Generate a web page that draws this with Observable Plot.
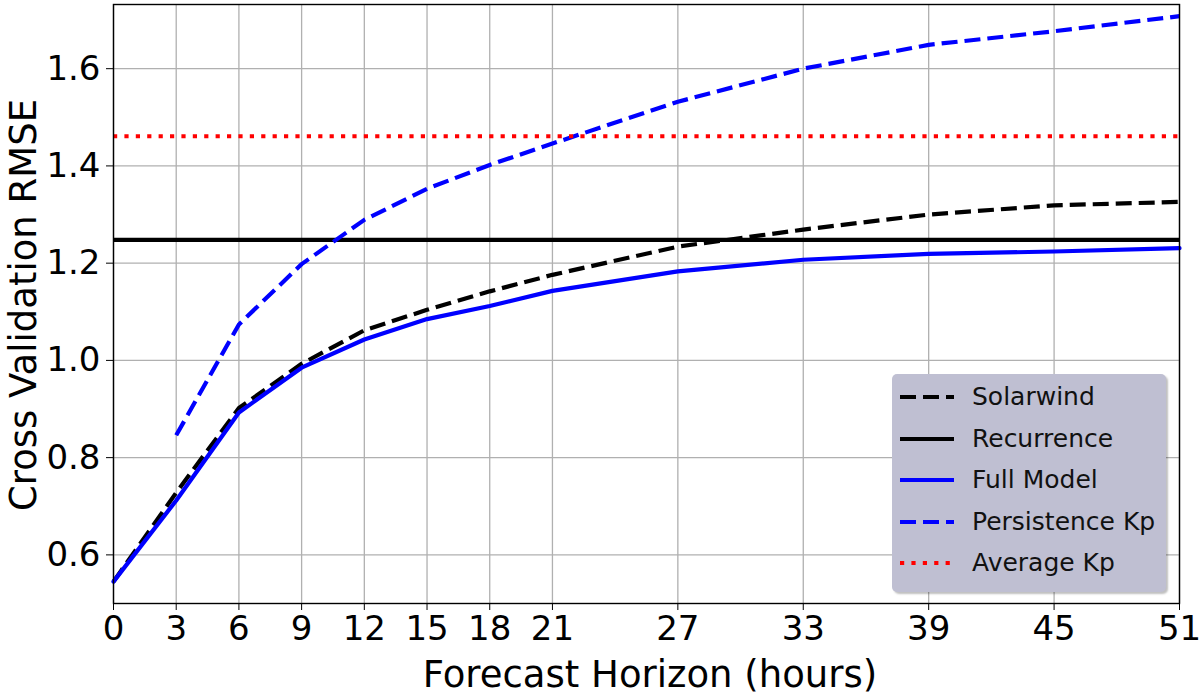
<!DOCTYPE html>
<html>
<head>
<meta charset="utf-8">
<script src="https://cdn.jsdelivr.net/npm/d3@7"></script>
<script src="https://cdn.jsdelivr.net/npm/@observablehq/plot@0.6"></script>
<style>
  html, body { margin: 0; padding: 0; background: #fff; }
  #wrap { position: relative; width: 1200px; height: 698px; font-family: "DejaVu Sans", sans-serif; }
  #legend { position: absolute; left: 892px; top: 374px; width: 274px; height: 218px;
            background: #bfbfd2; border-radius: 5px; box-shadow: 2px 2px 2px rgba(0,0,0,0.25); }
  .row { position: absolute; left: 0; height: 30px; width: 274px; }
  .row svg { position: absolute; left: 8px; top: 10px; }
  .row span { position: absolute; left: 80px; top: 0; font-size: 25px; line-height: 30px; color: #111; white-space: nowrap; }
</style>
</head>
<body>
<div id="wrap"></div>
<script>
// ---- data ----
const hours       = [0, 3, 6, 9, 12, 15, 18, 21, 27, 33, 39, 45, 51];
const solarwind   = [0.545, 0.728, 0.902, 0.993, 1.062, 1.104, 1.142, 1.176, 1.234, 1.269, 1.300, 1.319, 1.326];
const fullModel   = [0.545, 0.712, 0.893, 0.985, 1.043, 1.085, 1.112, 1.143, 1.183, 1.207, 1.219, 1.224, 1.231];
const persistence = [null, 0.846, 1.074, 1.198, 1.289, 1.353, 1.402, 1.446, 1.532, 1.600, 1.649, 1.677, 1.708];
const recurrence  = 1.248;
const averageKp   = 1.461;
const yTicks      = [0.6, 0.8, 1.0, 1.2, 1.4, 1.6];
const seriesNames = ["Solarwind", "Recurrence", "Full Model", "Persistence Kp", "Average Kp"];

const toRows = vals => hours.map((h, i) => ({h, v: vals[i]})).filter(d => d.v != null);

const LW = 4.2;
const DASH = "16,7";
const DOT = "4.2,7.2";

const chart = Plot.plot({
  width: 1200,
  height: 698,
  marginLeft: 113,
  marginRight: 21,
  marginTop: 4,
  marginBottom: 95,
  style: {fontFamily: "DejaVu Sans, sans-serif", fontSize: "34px", color: "#000", background: "#fff"},
  x: {domain: [0, 51], ticks: hours},
  y: {domain: [0.5, 1.732], ticks: yTicks},
  marks: [
    Plot.gridX(hours, {stroke: "#b0b0b0", strokeOpacity: 1, strokeWidth: 1.3}),
    Plot.gridY(yTicks, {stroke: "#b0b0b0", strokeOpacity: 1, strokeWidth: 1.3}),
    Plot.axisX(hours, {tickSize: 7, tickPadding: 5, fontSize: 34, label: null, tickFormat: d => String(d)}),
    Plot.axisY(yTicks, {tickSize: 7, tickPadding: 6, fontSize: 34, label: null, tickFormat: d3.format(".1f")}),
    Plot.line(toRows(solarwind), {x: "h", y: "v", stroke: "#000", strokeWidth: LW, strokeDasharray: DASH, strokeLinecap: "butt"}),
    Plot.ruleY([recurrence], {stroke: "#000", strokeWidth: LW}),
    Plot.line(toRows(fullModel), {x: "h", y: "v", stroke: "#0000ff", strokeWidth: LW}),
    Plot.line(toRows(persistence), {x: "h", y: "v", stroke: "#0000ff", strokeWidth: LW, strokeDasharray: DASH, strokeLinecap: "butt"}),
    Plot.ruleY([averageKp], {stroke: "#ff0000", strokeWidth: LW, strokeDasharray: DOT, strokeLinecap: "butt"}),
    Plot.frame({stroke: "#000", strokeWidth: 1.4})
  ]
});

const wrap = document.getElementById("wrap");
wrap.appendChild(chart);

// axis titles
const svg = d3.select(chart);
svg.append("text")
  .attr("x", 650).attr("y", 687)
  .attr("text-anchor", "middle")
  .attr("font-family", "DejaVu Sans, sans-serif")
  .attr("font-size", 37)
  .attr("fill", "#000")
  .text("Forecast Horizon (hours)");
svg.append("text")
  .attr("transform", "translate(36,305) rotate(-90)")
  .attr("text-anchor", "middle")
  .attr("font-family", "DejaVu Sans, sans-serif")
  .attr("font-size", 37)
  .attr("fill", "#000")
  .text("Cross Validation RMSE");

// legend
const legendStyles = [
  {stroke: "#000", dash: DASH},
  {stroke: "#000", dash: null},
  {stroke: "#0000ff", dash: null},
  {stroke: "#0000ff", dash: DASH},
  {stroke: "#ff0000", dash: DOT}
];
const legend = document.createElement("div");
legend.id = "legend";
seriesNames.forEach((name, i) => {
  const row = document.createElement("div");
  row.className = "row";
  row.style.top = (8 + i * 41.6) + "px";
  const s = legendStyles[i];
  row.innerHTML = `<svg width="56" height="10"><line x1="0" y1="5" x2="54" y2="5" stroke="${s.stroke}" stroke-width="${LW}" ${s.dash ? `stroke-dasharray="${s.dash}"` : ""}/></svg><span>${name}</span>`;
  legend.appendChild(row);
});
wrap.appendChild(legend);
</script>
</body>
</html>
